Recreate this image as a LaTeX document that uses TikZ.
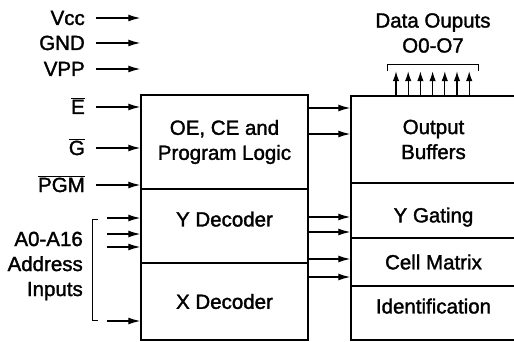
\documentclass[tikz,border=0pt]{standalone}
\usepackage{fontspec}
\setmainfont{Liberation Sans}[FakeBold=1.6]
\usetikzlibrary{arrows.meta,positioning}

\begin{document}
\begin{tikzpicture}[
    x=1pt, y=-1pt,
    block/.style={rectangle, draw, line width=1.5pt, minimum width=167pt, inner sep=0pt, align=center, font=\fontsize{20.5}{25}\selectfont},
    rblock/.style={block, minimum width=165pt},
    pin/.style={anchor=east, inner sep=0pt, text height=14pt, text depth=0pt, font=\fontsize{20.5}{25}\selectfont},
    arrow/.style={-{Latex[length=12pt,width=7pt]}, line width=1.2pt},
    uparrow/.style={-{Latex[length=10pt,width=6.5pt]}, line width=1.2pt},
    bracket/.style={line width=1pt}
]
\clip (0,0) rectangle (514,342);

% Left column: control logic and decoders
\node[block, minimum height=94pt] (ctrl) at (224.5,142) {OE, CE and\\Program Logic};
\node[block, minimum height=74pt, text depth=14pt] (ydec) at (224.5,226) {Y Decoder};
\node[block, minimum height=77pt] (xdec) at (224.5,301.5) {X Decoder};

% Right column: output side and array
\node[rblock, minimum height=87pt] (outbuf) at (433.5,139.5) {Output\\Buffers};
\node[rblock, minimum height=55pt, text height=28pt] (ygate) at (433.5,210.5) {Y Gating};
\node[rblock, minimum height=48pt] (cellm) at (433.5,262) {Cell Matrix};
\node[rblock, minimum height=54pt, text depth=14pt] (ident) at (433.5,313) {Identification};

% Pin labels
\node[pin] (vcc) at (85,18) {Vcc};
\node[pin] (gnd) at (85,43) {GND};
\node[pin] (vpp) at (85,69) {VPP};
\node[pin] (ebar) at (85,107) {$\overline{\mbox{E}}$};
\node[pin] (gbar) at (85,148) {$\overline{\mbox{G}}$};
\node[pin] (pgm) at (85,185) {$\overline{\mbox{PGM}}$};
\node[anchor=east, inner sep=0pt, align=right, font=\fontsize{20.5}{25}\selectfont] (addr) at (83,266) {A0-A16\\Address\\Inputs};
\node[align=center, inner sep=0pt, font=\fontsize{20.5}{25}\selectfont] (dout) at (433,33) {Data Ouputs\\O0-O7};

% Pin arrows
\foreach \p in {vcc,gnd,vpp,ebar,gbar,pgm}
    \draw[arrow] ([xshift=11pt]\p.east) -- (\p.east -| ctrl.west);

% Address bracket and arrows
\coordinate (atop) at (92.5,219);
\coordinate (abot) at (92.5,320);
\draw[bracket] ([xshift=5.5pt]atop) -- (atop) -- (abot) -- ([xshift=5.5pt]abot);
\foreach \y in {218,234,247,321}
    \draw[arrow] ([xshift=14.5pt]atop |- 0,\y) -- (ydec.west |- 0,\y);

% Arrows between the two columns
\foreach \y in {108,134,217,232,259,277}
    \draw[arrow] (ctrl.east |- 0,\y) -- (outbuf.west |- 0,\y);

% Data outputs
\coordinate (otl) at (387,71);
\coordinate (otr) at (478,71);
\draw[bracket] (otl) -- ++(0,-6.5) -| (otr);
\foreach \x in {396,408.2,420.4,432.6,444.8,457,469.2}
    \draw[uparrow] (outbuf.north -| \x,0) -- ++(0,-24);

\end{tikzpicture}
\end{document}
